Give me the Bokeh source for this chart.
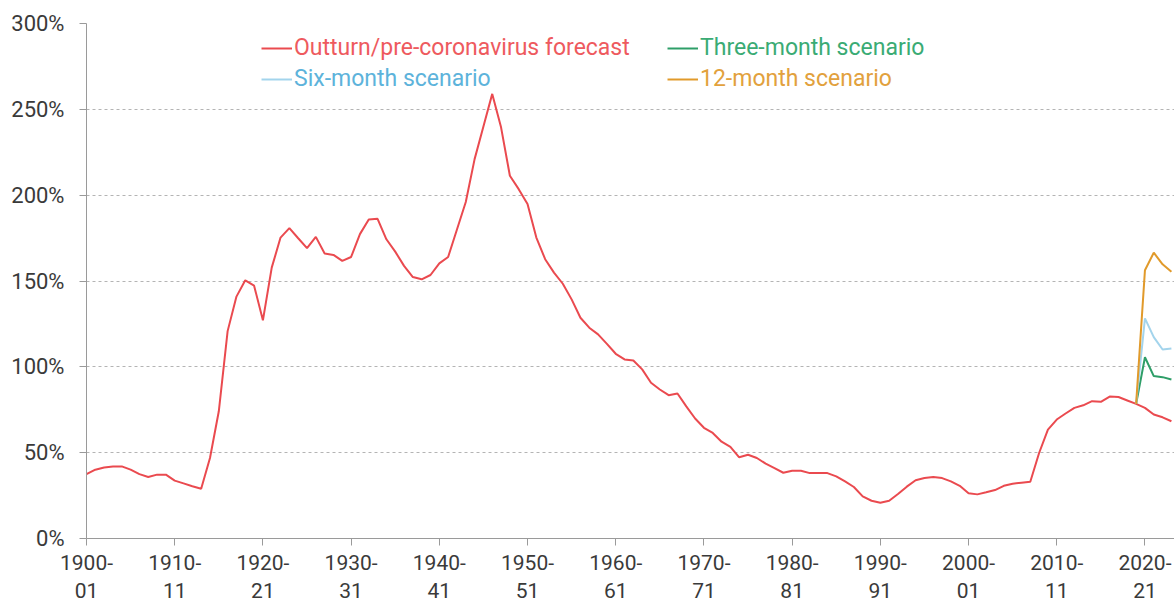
from bokeh.plotting import figure
from bokeh.models import FixedTicker, Legend, LegendItem, Range1d
from bokeh.embed import file_html
from bokeh.resources import INLINE

# ---- data ----
years = list(range(1900, 2024))
outturn = [
    37.5, 40.1, 41.4, 42.0, 42.0, 40.1, 37.5, 35.8, 37.2, 37.2,
    33.7, 32.1, 30.4, 29.0, 46.9, 74.1, 120.8, 140.9, 150.4, 147.3,
    127.1, 157.8, 175.3, 180.8, 174.9, 169.1, 175.7, 166.0, 165.2, 161.7,
    164.0, 177.3, 185.8, 186.2, 174.3, 167.1, 158.8, 152.3, 151.0, 153.5,
    160.3, 164.0, 180.0, 196.0, 221.0, 240.0, 259.0, 239.5, 211.3, 203.5,
    194.8, 175.3, 162.7, 154.9, 148.4, 139.3, 128.6, 122.8, 118.9, 113.4,
    107.6, 104.3, 103.7, 98.5, 90.7, 86.8, 83.5, 84.5, 77.0, 69.9,
    64.5, 61.5, 56.4, 53.4, 47.3, 48.8, 46.9, 43.6, 41.0, 38.3,
    39.5, 39.5, 38.1, 38.1, 38.1, 36.2, 33.3, 30.0, 24.5, 22.0,
    20.8, 22.0, 25.9, 30.2, 33.9, 35.2, 35.8, 35.2, 33.3, 30.7,
    26.3, 25.7, 26.9, 28.2, 30.7, 31.9, 32.5, 33.1, 49.8, 63.4,
    69.3, 72.8, 76.1, 77.6, 80.0, 79.6, 82.7, 82.4, 80.4, 78.4,
    76.1, 72.2, 70.6, 68.3,
]
scen_years = [2019, 2020, 2021, 2022, 2023]
three_month = [78.4, 105.6, 94.6, 94.0, 92.6]
six_month = [78.4, 128.2, 117.3, 110.1, 110.7]
twelve_month = [78.4, 156.3, 166.5, 159.7, 155.4]

x_ticks = [1900, 1910, 1920, 1930, 1940, 1950, 1960, 1970, 1980, 1990, 2000, 2010, 2020]
x_tick_labels = ["1900-\n01", "1910-\n11", "1920-\n21", "1930-\n31", "1940-\n41", "1950-\n51",
                 "1960-\n61", "1970-\n71", "1980-\n81", "1990-\n91", "2000-\n01", "2010-\n11", "2020-\n21"]
y_ticks = [0, 50, 100, 150, 200, 250, 300]
y_tick_labels = ["0%", "50%", "100%", "150%", "200%", "250%", "300%"]

series_names = ["Outturn/pre-coronavirus forecast", "Three-month scenario",
                "Six-month scenario", "12-month scenario"]

# ---- styling ----
RED = "#EA4A4F"
GREEN = "#2E9E68"
BLUE = "#A3D4EC"
ORANGE = "#E19A2B"
TXT_RED = "#EE5A5E"
TXT_GREEN = "#3AAB74"
TXT_BLUE = "#5DB3DB"
TXT_ORANGE = "#E2A13D"
FONT = "Roboto"

W, H = 1174, 606
p = figure(width=W, height=H, output_backend="svg", toolbar_location=None,
           x_range=Range1d(1900, 2023.35), y_range=Range1d(0, 300),
           min_border_left=86, min_border_right=0, min_border_top=23, min_border_bottom=68)
p.outline_line_color = None
p.background_fill_color = "white"
p.border_fill_color = "white"

r_out = p.line(years, outturn, line_color=RED, line_width=2)
r_3 = p.line(scen_years, three_month, line_color=GREEN, line_width=2)
r_6 = p.line(scen_years, six_month, line_color=BLUE, line_width=2)
r_12 = p.line(scen_years, twelve_month, line_color=ORANGE, line_width=2)

# axes
for ax in (p.xaxis[0], p.yaxis[0]):
    ax.axis_line_color = "#9a9a9a"
    ax.axis_line_width = 1
    ax.major_tick_line_color = "#9a9a9a"
    ax.major_tick_in = 0
    ax.major_tick_out = 7
    ax.minor_tick_line_color = None
    ax.major_label_text_font = FONT
    ax.major_label_text_color = "#3a3a3a"

p.xaxis.major_label_text_font_size = "21px"
p.yaxis.major_label_text_font_size = "22px"
p.xaxis.ticker = FixedTicker(ticks=x_ticks)
p.xaxis.major_label_overrides = {t: l for t, l in zip(x_ticks, x_tick_labels)}
p.xaxis.major_label_standoff = 5
p.yaxis.ticker = FixedTicker(ticks=y_ticks)
p.yaxis.major_label_overrides = {t: l for t, l in zip(y_ticks, y_tick_labels)}
p.yaxis.major_label_standoff = 15

p.xgrid.grid_line_color = None
p.ygrid.grid_line_color = "#b4b4b4"
p.ygrid.grid_line_dash = "3 3"
p.ygrid.grid_line_width = 1

# legends (one per entry so each label keeps its series colour)
frame_h = 515
def add_legend(renderer, label, color, x, y_center_from_top):
    item_h = 26
    lg = Legend(items=[LegendItem(label=label, renderers=[renderer])],
                location=(x, frame_h - y_center_from_top - item_h / 2),
                orientation="vertical", padding=0, margin=0, spacing=0,
                glyph_width=31, glyph_height=item_h, label_height=item_h,
                label_standoff=2,
                label_text_font=FONT, label_text_font_size="23px",
                label_text_color=color,
                background_fill_alpha=0, border_line_alpha=0)
    p.add_layout(lg)

add_legend(r_out, series_names[0], TXT_RED, 175, 25)
add_legend(r_3, series_names[1], TXT_GREEN, 581, 25)
add_legend(r_6, series_names[2], TXT_BLUE, 175, 56)
add_legend(r_12, series_names[3], TXT_ORANGE, 581, 56)

open("out.html", "w").write(file_html(p, INLINE))
